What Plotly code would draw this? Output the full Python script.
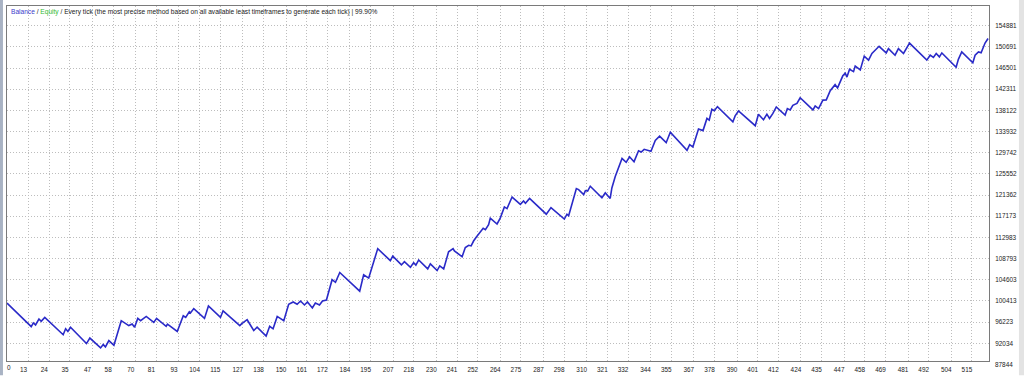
import plotly.graph_objects as go

# Balance curve vertices (trade number, balance)
trade_no = [1.5, 7.8, 14.4, 15.5, 16.7, 18.5, 19.7, 21.6, 31.4, 32.7, 33.9, 35.3, 43.8, 45.6, 51.3, 52.7,
            53.9, 55.7, 58.4, 62.3, 66.3, 68.1, 69.4, 71.1, 72.6, 75.6, 79.6, 81.1, 86.2, 86.9, 92.1, 95.3,
            96.6, 98.5, 99.1, 100.9, 106.6, 108.7, 115.1, 116.5, 125.4, 126.3, 129.3, 132.8, 134.6, 139.4,
            141.3, 143.1, 145.3, 148.8, 151.4, 153.8, 155.9, 157.7, 159.8, 161.4, 164.0, 165.6, 167.8, 169.4,
            171.5, 174.5, 176.3, 178.6, 182.5, 189.2, 191.3, 194.0, 198.8, 205.5, 206.8, 211.4, 213.0, 216.2,
            217.9, 219.1, 220.6, 225.4, 226.8, 230.4, 231.8, 233.9, 236.5, 238.9, 239.6, 243.7, 245.4, 247.2,
            248.5, 249.8, 251.3, 253.4, 254.9, 256.1, 257.8, 258.7, 262.3, 264.0, 266.2, 267.6, 270.3, 274.7,
            276.4, 277.4, 279.6, 288.5, 291.0, 298.1, 299.5, 300.4, 304.5, 305.7, 308.4, 309.3, 310.5, 311.9,
            318.1, 319.9, 322.5, 323.4, 325.2, 328.8, 331.0, 332.8, 335.2, 337.6, 339.0, 340.6, 344.2, 346.5,
            348.8, 352.3, 354.5, 363.4, 364.8, 366.5, 369.5, 371.9, 374.0, 375.2, 376.6, 377.9, 379.6, 387.8,
            389.0, 390.8, 399.7, 401.4, 404.1, 405.9, 407.3, 409.1, 410.9, 415.6, 416.8, 418.3, 419.7, 421.9,
            423.6, 430.4, 431.6, 433.4, 435.7, 437.5, 439.6, 442.2, 443.5, 446.3, 447.6, 448.5, 449.9, 452.0,
            452.9, 455.6, 457.7, 460.0, 461.8, 463.5, 465.6, 469.4, 470.6, 474.1, 475.9, 478.6, 480.0, 481.8,
            491.0, 492.8, 494.5, 496.0, 497.7, 499.0, 506.6, 507.8, 509.6, 515.5, 516.7, 518.5, 519.9, 522.0,
            523.6]
balance = [100000, 97620, 95340, 96060, 95670, 96840, 96370, 97150, 93730, 94900, 94370, 95210, 91980, 93070,
           91120, 91780, 91320, 92560, 91650, 96510, 95540, 95870, 95210, 96960, 96510, 97350, 96180, 96960,
           95400, 95830, 94370, 97480, 97150, 98260, 98010, 98900, 96960, 99430, 97150, 98460, 95540, 95870,
           96700, 94560, 95210, 93460, 95400, 94900, 97350, 96510, 99760, 100210, 99760, 100400, 99620, 100210,
           99040, 100010, 99620, 100400, 100600, 104620, 104100, 106040, 104740, 102350, 105600, 104940, 110770,
           108380, 109290, 107540, 108180, 107080, 107990, 107500, 108520, 106760, 107740, 106430, 107350,
           106760, 110130, 110770, 110320, 109160, 110970, 111430, 111300, 112270, 113050, 114020, 114800,
           114510, 115520, 116800, 115640, 116800, 119020, 118690, 120970, 119530, 120190, 119760, 120700,
           117580, 118890, 116610, 117580, 117270, 122640, 122450, 121470, 122250, 122140, 123110, 120830,
           121800, 120700, 122780, 125050, 128610, 127840, 128950, 127970, 130130, 129880, 130420, 130030,
           132180, 133030, 131730, 133810, 130230, 131340, 130890, 134450, 134120, 136530, 136200, 138340,
           138050, 138870, 135870, 137040, 138010, 135090, 137370, 136260, 137370, 136530, 137510, 138790,
           137180, 138480, 138210, 139120, 139510, 140620, 138210, 138990, 138480, 140150, 140190, 142000,
           143210, 142570, 144960, 145480, 144710, 146260, 145790, 146900, 146130, 148850, 148070, 149380,
           150020, 150800, 149490, 150350, 149040, 150350, 149380, 150350, 151440, 148070, 149040, 148600,
           149380, 148710, 149490, 146650, 148210, 149690, 147550, 149040, 149690, 149530, 151440, 152350]

# Axis tick labels
x_ticks = [0, 13, 24, 35, 47, 58, 70, 81, 93, 104, 115, 127, 138, 150, 161, 172, 184, 195, 207, 218, 230,
           241, 252, 264, 275, 287, 298, 310, 321, 332, 344, 355, 367, 378, 390, 401, 412, 424, 435, 447,
           458, 469, 481, 492, 504, 515]
y_ticks = [87844, 92034, 96223, 100413, 104603, 108793, 112983, 117173, 121362, 125552, 129742, 133932,
           138122, 142311, 146501, 150691, 154881]

X_RANGE = [1.5, 524.1]
Y_RANGE = [88531, 158773]

fig = go.Figure()
fig.add_trace(go.Scatter(x=trade_no, y=balance, mode="lines", name="Balance",
                         line=dict(color="#2a2ac8", width=1.6), hoverinfo="skip"))

tick_font = dict(family="Liberation Sans, Arial, sans-serif", size=6.4, color="#222222")
GRID = dict(showgrid=True, gridcolor="#bdbdbd", griddash="1px,2px", gridwidth=1,
            showline=True, linecolor="#7a7a7a", linewidth=1, mirror=True, zeroline=False, ticks="")

fig.update_layout(
    width=1024, height=378,
    margin=dict(l=7, r=35, t=5, b=12, pad=0),
    paper_bgcolor="white", plot_bgcolor="white",
    showlegend=False,
    xaxis=dict(range=X_RANGE, tickmode="array", tickvals=x_ticks[1:], ticktext=[str(v) for v in x_ticks[1:]],
               tickfont=tick_font, ticklabelshift=-5, ticklabelstandoff=2, **GRID),
    yaxis=dict(range=Y_RANGE, side="right", tickmode="array", tickvals=y_ticks[1:],
               ticktext=[str(v) for v in y_ticks[1:]], tickfont=tick_font, ticklabelstandoff=4, **GRID),
)

# edge labels that fall just outside the axis ranges
fig.add_annotation(x=(x_ticks[0] + 2.4 - X_RANGE[0]) / (X_RANGE[1] - X_RANGE[0]), xref="paper",
                   y=0, yref="paper", yshift=-6, text=str(x_ticks[0]), showarrow=False,
                   font=tick_font, xanchor="center", yanchor="middle")
fig.add_annotation(x=1, xref="paper", xshift=4,
                   y=(y_ticks[0] - Y_RANGE[0]) / (Y_RANGE[1] - Y_RANGE[0]), yref="paper",
                   text=str(y_ticks[0]), showarrow=False, font=tick_font, xanchor="left", yanchor="middle")

# header text
header = ("<span style='color:#3a3acc'>Balance</span> / <span style='color:#33bb33'>Equity</span>"
          " / Every tick (the most precise method based on all available least timeframes to generate each tick) | 99.90%")
fig.add_annotation(x=0, xref="paper", xshift=2, y=1, yref="paper", yshift=-6, text=header, showarrow=False,
                   font=dict(family="Liberation Sans, Arial, sans-serif", size=6.6, color="#222222"),
                   xanchor="left", yanchor="middle")

# window frame strips
fig.add_shape(type="rect", xref="paper", yref="paper", x0=-0.0072, x1=-0.0041, y0=-0.04, y1=1.02,
              fillcolor="#a9b3c4", line_width=0, layer="above")
fig.add_shape(type="rect", xref="paper", yref="paper", x0=1.0305, x1=1.04, y0=-0.04, y1=1.02,
              fillcolor="#e3e3e3", line_width=0, layer="above")

fig.write_html("out.html", config={"displayModeBar": False, "staticPlot": True},
               post_script="document.body.style.margin='0';document.body.style.padding='0';")
